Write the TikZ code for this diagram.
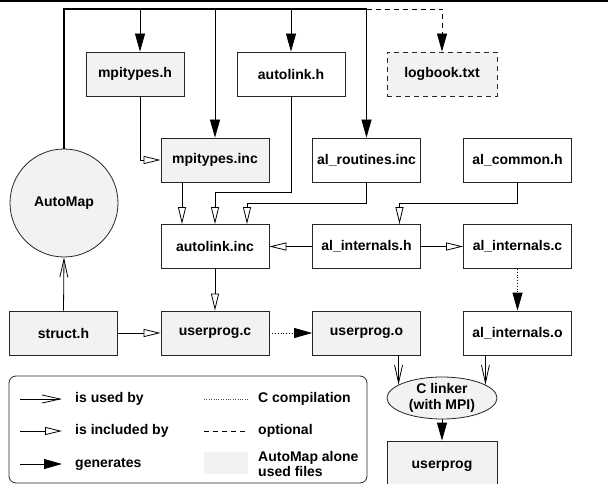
\documentclass[tikz,border=0pt]{standalone}
\usepackage{fontspec}
\setmainfont{Liberation Sans}
\usetikzlibrary{arrows.meta,shapes.geometric,calc}
\definecolor{fgray}{HTML}{F2F2F2}
\begin{document}
\begin{tikzpicture}[x=1pt,y=-1pt,
  font=\fontsize{14}{16}\selectfont\bfseries,
  box/.style={draw=black!85, line width=0.8pt, minimum width=108pt, minimum height=44pt, inner sep=0pt},
  ambox/.style={box, fill=fgray},
  conn/.style={line width=0.8pt},
  gen/.style={conn, -{Triangle[length=18pt,width=10pt]}},
  inc/.style={conn, -{Triangle[open,length=17pt,width=8pt,fill=white]}},
  use/.style={conn, -{Straight Barb[length=18pt,width=8pt]}},
  comp/.style={dotted},
  opt/.style={dash pattern=on 5pt off 4pt},
  legtext/.style={anchor=west, inner sep=0pt},
]
\useasboundingbox (0,0) rectangle (608,484);
\fill (0,0) rectangle (608,2.5);

% nodes
\node[ambox, minimum width=98pt] (mph) at (135,74) {mpitypes.h};
\node[box] (alh) at (291,74) {autolink.h};
\node[ambox, opt, minimum width=110pt] (log) at (442,74) {logbook.txt};
\node[ambox] (mpinc) at (215,160) {mpitypes.inc};
\node[box] (alr) at (366.5,160) {al\_routines.inc};
\node[box] (alc) at (517.5,160) {al\_common.h};
\node[circle, draw=black!85, line width=0.8pt, fill=fgray, minimum size=108pt, inner sep=0pt] (automap) at (64,203) {AutoMap};
\node[box] (alinc) at (215,246.5) {autolink.inc};
\node[box] (aih) at (366.5,246.5) {al\_internals.h};
\node[box] (aic) at (517.5,246.5) {al\_internals.c};
\node[ambox] (struct) at (63.5,333) {struct.h};
\node[ambox] (upc) at (215,333) {userprog.c};
\node[ambox] (upo) at (366.5,333) {userprog.o};
\node[box] (aio) at (517.5,333) {al\_internals.o};
\node[ellipse, draw=black!85, line width=0.8pt, fill=fgray, minimum width=110pt, minimum height=42pt, inner sep=0pt, align=center] (link) at (442,398) {C linker\\(with MPI)};
\node[ambox, minimum width=110pt, minimum height=50pt] (up) at (442,466) {userprog};

% top bus
\coordinate (bA) at (64,9);
\coordinate (b1) at (140,9);
\coordinate (b2) at (215,9);
\coordinate (b3) at (291,9);
\coordinate (b4) at (366.5,9);
\coordinate (b5) at (442,9);
\draw[gen, opt] (b4) -- (b5) -- (log.north);
\draw[line width=1.8pt] (automap.north) -- (bA) -- (b4);
\draw[gen] (b1) -- (b1 |- mph.north);
\draw[gen] (b2) -- (mpinc.north);
\draw[gen] (b3) -- (alh.north);
\draw[gen] (b4) -- (alr.north);

% includes
\draw[inc] (b1 |- mph.south) |- (mpinc.west);
\draw[inc] ([xshift=-33pt]mpinc.south) -- ([xshift=-33pt]alinc.north);
\draw[inc] (alh.south) -- ++(0,96) -| (alinc.north);
\draw[inc] (alr.south) -- ++(0,21) -| ([xshift=32pt]alinc.north);
\draw[inc] (alc.south) -- ++(0,21) -| ([xshift=33pt]aih.north);
\draw[inc] (aih.west) -- (alinc.east);
\draw[inc] (aih.east) -- (aic.west);
\draw[inc] (alinc.south) -- (upc.north);
\draw[inc] (struct.east) -- (upc.west);
\draw[use] (struct.north) -- (automap.south);

% compilation / linking
\draw[gen, comp] (upc.east) -- (upo.west);
\draw[gen, comp] (aic.south) -- (aio.north);
\draw[use] (link.163 |- upo.south) -- (link.163);
\draw[use] (link.17 |- aio.south) -- (link.17);
\draw[gen] (link.south) -- (up.north);

% legend
\node[draw=black!85, line width=0.8pt, rounded corners=7pt, minimum width=358pt, minimum height=107pt, inner sep=0pt] (legend) at (188,429.5) {};
\coordinate (l1a) at (20,399); \coordinate (l1b) at (62,399);
\coordinate (l2a) at (20,431); \coordinate (l2b) at (62,431);
\coordinate (l3a) at (20,464); \coordinate (l3b) at (62,464);
\coordinate (r1a) at (204,399); \coordinate (r1b) at (248,399);
\coordinate (r2a) at (204,431); \coordinate (r2b) at (248,431);
\draw[use] (l1a) -- (l1b);
\draw[inc] (l2a) -- (l2b);
\draw[gen] (l3a) -- (l3b);
\draw[comp, black!70] (r1a) -- (r1b);
\draw[conn, opt] (r2a) -- (r2b);
\fill[fgray] (204,452) rectangle (248,474);
\node[legtext] (t1) at (75,399) {is used by};
\node[legtext] (t2) at (75,431) {is included by};
\node[legtext] (t3) at (75,464) {generates};
\node[legtext] (t4) at (258,399) {C compilation};
\node[legtext] (t5) at (258,431) {optional};
\node[legtext, align=left, font=\fontsize{14}{11}\selectfont\bfseries] (t6) at (258,464) {AutoMap alone\\used files};
\end{tikzpicture}
\end{document}
